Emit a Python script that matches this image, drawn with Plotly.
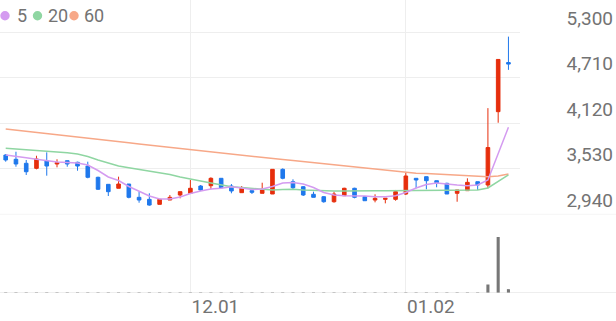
import plotly.graph_objects as go

# ---------------- data ----------------
day_index = list(range(50))
opens  = [3708, 3653, 3601, 3536, 3631, 3592, 3635, 3614, 3566, 3420,
          3329, 3278, 3333, 3161, 3135, 3070, 3126, 3191, 3213, 3307,
          3311, 3407, 3307, 3221, 3247, 3213, 3204, 3523, 3363, 3298,
          3200, 3169, 3104, 3182, 3278, 3169, 3126, 3135, 3135, 3204,
          3407, 3428, 3376, 3342, 3213, 3247, 3363, 3320, 4269, 4905]
highs  = [3721, 3751, 3644, 3699, 3743, 3653, 3635, 3622, 3622, 3428,
          3329, 3428, 3333, 3234, 3213, 3135, 3191, 3234, 3385, 3320,
          3420, 3407, 3333, 3307, 3265, 3350, 3523, 3536, 3394, 3307,
          3234, 3178, 3234, 3285, 3285, 3169, 3200, 3148, 3256, 3480,
          3407, 3428, 3376, 3350, 3256, 3407, 3363, 4315, 4945, 5240]
lows   = [3622, 3557, 3450, 3523, 3441, 3549, 3557, 3505, 3407, 3256,
          3178, 3278, 3148, 3091, 3052, 3070, 3126, 3148, 3204, 3243,
          3265, 3285, 3213, 3221, 3204, 3213, 3204, 3394, 3265, 3178,
          3161, 3091, 3091, 3182, 3148, 3117, 3096, 3083, 3117, 3191,
          3278, 3265, 3291, 3204, 3104, 3247, 3256, 3278, 4126, 4810]
closes = [3644, 3592, 3492, 3657, 3566, 3609, 3592, 3566, 3420, 3265,
          3234, 3333, 3161, 3126, 3061, 3135, 3161, 3234, 3278, 3256,
          3407, 3285, 3243, 3278, 3226, 3265, 3523, 3407, 3285, 3191,
          3161, 3104, 3204, 3278, 3161, 3117, 3148, 3148, 3234, 3437,
          3385, 3376, 3350, 3204, 3256, 3355, 3320, 3805, 4945, 4885]
ma5  = [3708, 3695, 3673, 3653, 3631, 3618, 3611, 3605, 3579, 3508,
        3424, 3378, 3301, 3236, 3178, 3139, 3139, 3165, 3210, 3243,
        3268, 3278, 3298, 3281, 3262, 3268, 3301, 3346, 3353, 3333,
        3288, 3223, 3191, 3182, 3182, 3178, 3169, 3169, 3182, 3223,
        3281, 3327, 3346, 3329, 3320, 3311, 3320, 3385, 3730, 4067]
ma20 = [3795, 3786, 3777, 3768, 3758, 3747, 3737, 3721, 3689, 3644,
        3605, 3566, 3544, 3523, 3501, 3479, 3456, 3424, 3394, 3372,
        3346, 3320, 3298, 3288, 3278, 3268, 3256, 3262, 3265, 3256,
        3249, 3243, 3243, 3243, 3247, 3247, 3247, 3247, 3247, 3249,
        3252, 3256, 3256, 3256, 3256, 3256, 3256, 3282, 3364, 3450]
ma60 = [4045, 4031, 4017, 4001, 3987, 3971, 3957, 3941, 3927, 3913,
        3897, 3882, 3868, 3852, 3837, 3821, 3806, 3791, 3776, 3760,
        3745, 3730, 3718, 3703, 3690, 3677, 3664, 3649, 3637, 3623,
        3610, 3596, 3582, 3566, 3552, 3538, 3523, 3508, 3492, 3479,
        3473, 3468, 3460, 3451, 3444, 3438, 3433, 3428, 3437, 3463]
volumes = [10000, 12000, 9000, 11000, 8000, 10000, 9000, 12000, 8000, 12000,
           10000, 9000, 11000, 9000, 10000, 8000, 3000, 2500, 3500, 3000,
           2500, 4000, 3000, 2500, 3500, 3000, 9000, 11000, 10000, 8500,
           11000, 9500, 10500, 9000, 10000, 8000, 3000, 2500, 3500, 4000,
           3000, 3500, 2500, 3000, 4000, 10000, 13000, 220000, 1450000, 100000]

price_ticks = [2940, 3530, 4120, 4710, 5300]
price_tick_text = ["2,940", "3,530", "4,120", "4,710", "5,300"]
x_tick_pos = [18, 39]
x_tick_text = ["12.01", "01.02"]
legend_labels = ["5", "20", "60"]

# ---------------- styles ----------------
W, H = 616, 321
RED = "#e62e0c"
BLUE = "#1f78ec"
C5, C20, C60 = "#d49bf0", "#8fd6a2", "#f7a888"
GRID = "#eeeeee"
TXT = "#737373"
FONT = "Roboto"

plot_right_px = 520.0
first_px, step_px = 5.7, 10.26
x_rng = [-first_px / step_px, (plot_right_px - first_px) / step_px]
xdom = [0, plot_right_px / W]

price_bottom_px = 214.4
price_top_value = 5714
vol_base_px = 293.0
vol_bar_top_px = 237.0

fig = go.Figure()

fig.add_trace(go.Candlestick(
    x=day_index, open=opens, high=highs, low=lows, close=closes,
    xaxis="x", yaxis="y", whiskerwidth=0,
    increasing=dict(line=dict(color=RED, width=1), fillcolor=RED),
    decreasing=dict(line=dict(color=BLUE, width=1), fillcolor=BLUE),
    showlegend=False, hoverinfo="skip"))

for vals, col in ((ma60, C60), (ma20, C20), (ma5, C5)):
    fig.add_trace(go.Scatter(x=day_index, y=vals, mode="lines",
                             line=dict(color=col, width=1.5),
                             xaxis="x", yaxis="y", showlegend=False,
                             hoverinfo="skip"))

fig.add_trace(go.Bar(x=day_index, y=volumes, width=0.3,
                     marker=dict(color="#777777", line=dict(width=0)),
                     xaxis="x2", yaxis="y2", showlegend=False,
                     hoverinfo="skip"))

vmax = max(volumes)
vol_range_top = vmax * (vol_base_px - price_bottom_px) / (vol_base_px - vol_bar_top_px)

fig.update_layout(
    width=W, height=H, margin=dict(l=0, r=0, t=0, b=0),
    paper_bgcolor="white", plot_bgcolor="white",
    hovermode=False, boxgap=0.5,
    font=dict(family=FONT, color=TXT, size=19),
    xaxis=dict(domain=xdom, range=x_rng, anchor="y",
               tickvals=x_tick_pos, showticklabels=False, ticks="",
               showgrid=True, gridcolor=GRID, zeroline=False,
               rangeslider=dict(visible=False), fixedrange=True),
    xaxis2=dict(domain=xdom, range=x_rng, anchor="y2", matches="x",
                tickvals=x_tick_pos, ticktext=x_tick_text, ticks="",
                ticklabelshift=25,
                tickfont=dict(family=FONT, size=19, color=TXT),
                showgrid=True, gridcolor=GRID, zeroline=False),
    yaxis=dict(domain=[1 - price_bottom_px / H, 1],
               range=[price_ticks[0], price_top_value],
               side="right", anchor="free", position=1,
               ticklabelposition="inside", ticklabelshift=-14, ticks="",
               tickvals=price_ticks, ticktext=price_tick_text,
               tickfont=dict(family=FONT, size=19, color=TXT),
               showgrid=True, gridcolor=GRID, zeroline=False),
    yaxis2=dict(domain=[1 - vol_base_px / H, 1 - price_bottom_px / H],
                range=[0, vol_range_top], showticklabels=False,
                showgrid=False, zeroline=False, ticks=""),
)

# baseline of the volume pane and bottom line of the price pane
fig.add_shape(type="line", xref="paper", yref="y2", x0=0, x1=1, y0=0, y1=0,
              line=dict(color="#dddddd", width=1))
fig.add_shape(type="line", xref="paper", yref="y", x0=0, x1=1,
              y0=price_ticks[0], y1=price_ticks[0],
              line=dict(color="#ececec", width=1))

# legend: coloured dots with labels
dot_px = [5, 37.5, 74]
text_px = [15, 46, 82]
legend_y = 1 - 15.7 / H
for lab, col, dx, tx in zip(legend_labels, (C5, C20, C60), dot_px, text_px):
    fig.add_shape(type="circle", xref="paper", yref="paper",
                  xsizemode="pixel", ysizemode="pixel",
                  xanchor=dx / W, yanchor=legend_y,
                  x0=-4.7, x1=4.7, y0=-4.7, y1=4.7,
                  fillcolor=col, line=dict(width=0))
    fig.add_annotation(xref="paper", yref="paper", x=tx / W, y=legend_y,
                       xanchor="left", yanchor="middle", showarrow=False,
                       text=lab, font=dict(family=FONT, size=18, color=TXT))

fig.write_html("out.html")
